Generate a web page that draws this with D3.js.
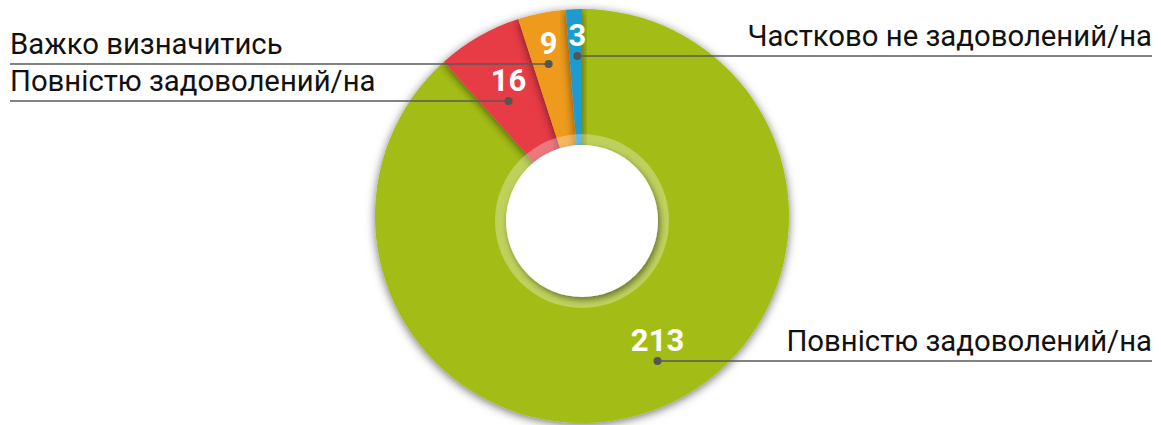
<!DOCTYPE html>
<html>
<head>
<meta charset="utf-8">
<script src="https://cdn.jsdelivr.net/npm/d3@7"></script>
<style>
  html, body { margin: 0; padding: 0; background: #fff; }
  svg { display: block; font-family: Roboto, "Noto Sans", sans-serif; }
</style>
</head>
<body>
<svg id="chart" width="1161" height="425"></svg>
<script>
// Survey answers (clockwise from 12 o'clock)
const categories = ["Повністю задоволений/на", "Повністю задоволений/на", "Важко визначитись", "Частково не задоволений/на"];
const values = [213, 16, 9, 3];
const colors = ["#A4BD15", "#E73B45", "#EE9A1C", "#1E9BD1"];

// Callout layout: distance of the marker from the centre, which side the caption sits on,
// and the vertical level of the leader line
const calloutRadius = [162, 138, 156, 161];
const calloutAngleShift = [-0.12, -0.04, -0.02, 0.01];
const calloutSide = ["right", "left", "left", "right"];
const calloutLineY = [361, 101, 64, 56];

const W = 1161, H = 425;
const cx = 582, cy = 216;
const outerR = 207, holeR = 76, ringR = 87, holeDy = 5;
const leftX = 10, rightX = 1152;

const svg = d3.select("#chart");
const defs = svg.append("defs");

const sliceShadow = defs.append("filter").attr("id", "sliceShadow")
  .attr("x", "-30%").attr("y", "-30%").attr("width", "160%").attr("height", "160%");
sliceShadow.append("feDropShadow").attr("dx", 0).attr("dy", 2)
  .attr("stdDeviation", 5).attr("flood-color", "#000").attr("flood-opacity", 0.55);

const holeShadow = defs.append("filter").attr("id", "holeShadow")
  .attr("x", "-30%").attr("y", "-30%").attr("width", "160%").attr("height", "160%");
holeShadow.append("feDropShadow").attr("dx", 2).attr("dy", 3)
  .attr("stdDeviation", 3).attr("flood-color", "#000").attr("flood-opacity", 0.45);

const data = values.map((v, i) => ({ value: v, label: categories[i], color: colors[i], i }));

const pie = d3.pie().value(d => d.value).sort(null);
const arcs = pie(data);
const arc = d3.arc().innerRadius(0).outerRadius(outerR);

const g = svg.append("g").attr("transform", `translate(${cx},${cy})`);

g.selectAll("path.slice")
  .data(arcs)
  .join("path")
  .attr("class", "slice")
  .attr("d", arc)
  .attr("fill", d => d.data.color)
  .attr("filter", "url(#sliceShadow)");

// translucent ring around the hole
g.append("circle").attr("cy", holeDy).attr("r", ringR).attr("fill", "rgba(255,255,255,0.3)");
g.append("circle").attr("cy", holeDy).attr("r", holeR).attr("fill", "#fff").attr("filter", "url(#holeShadow)");

// callouts
arcs.forEach((a, k) => {
  const mid = (a.startAngle + a.endAngle) / 2 + calloutAngleShift[k];
  const r = calloutRadius[k];
  const px = cx + r * Math.sin(mid);
  const ly = calloutLineY[k];
  const side = calloutSide[k];

  const x1 = side === "right" ? px : leftX;
  const x2 = side === "right" ? rightX : px;
  svg.append("line")
    .attr("x1", x1).attr("x2", x2).attr("y1", ly).attr("y2", ly)
    .attr("stroke", "#5a5a5a").attr("stroke-width", 1.3);

  svg.append("circle").attr("cx", px).attr("cy", ly).attr("r", 4).attr("fill", "#555");

  svg.append("text")
    .attr("x", px).attr("y", ly - 10)
    .attr("text-anchor", "middle")
    .attr("fill", "#fff")
    .attr("font-weight", 700)
    .attr("font-size", 31)
    .text(a.data.value);

  svg.append("text")
    .attr("x", side === "right" ? rightX : leftX)
    .attr("y", ly - 10)
    .attr("text-anchor", side === "right" ? "end" : "start")
    .attr("fill", "#111")
    .attr("font-size", 29.3)
    .text(a.data.label);
});
</script>
</body>
</html>
